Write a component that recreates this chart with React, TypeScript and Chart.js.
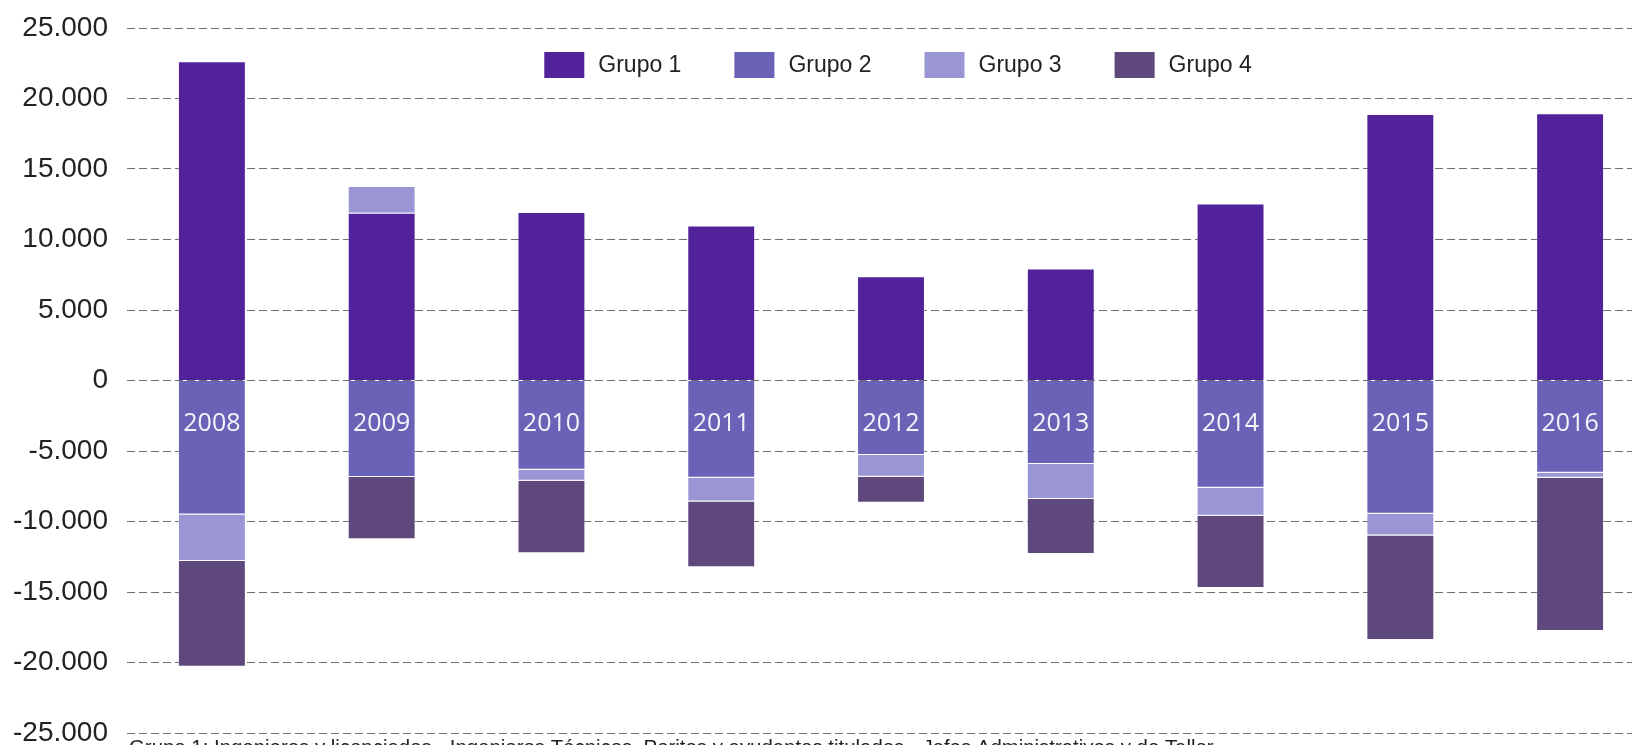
import React, { useEffect, useRef } from "react";
import { Chart, registerables } from "chart.js";

Chart.register(...registerables);

const years = ["2008", "2009", "2010", "2011", "2012", "2013", "2014", "2015", "2016"];
const grupo1 = [22650, 11900, 11950, 11000, 7400, 7950, 12550, 18900, 18950];
const grupo2 = [-9500, -6850, -6330, -6900, -5280, -5920, -7600, -9450, -6550];
const grupo3 = [-3300, 1900, -780, -1680, -1550, -2480, -1990, -1550, -340];
const grupo4 = [-7500, -4410, -5150, -4660, -1840, -3900, -5120, -7400, -10870];
const seriesLabels = ["Grupo 1", "Grupo 2", "Grupo 3", "Grupo 4"];
const seriesColors = ["#51229A", "#6962B7", "#9A96D6", "#5F487C"];
const yMin = -25000;
const yMax = 25000;
const yStep = 5000;
const footnote =
  "Grupo 1: Ingenieros y licenciados - Ingenieros Técnicos, Peritos y ayudantes titulados - Jefes Administrativos y de Taller";

const fmt = (v: number) => {
  const s = Math.abs(v).toString().replace(/\B(?=(\d{3})+(?!\d))/g, ".");
  return (v < 0 ? "-" : "") + s;
};

const overlayPlugin = {
  id: "overlay",
  afterDatasetsDraw(chart: any) {
    const ctx = chart.ctx;
    const xs = chart.scales.x;
    const ys = chart.scales.y;
    ctx.save();
    ctx.font = "25px 'Open Sans', 'Noto Sans', sans-serif";
    ctx.fillStyle = "#f6f4fb";
    ctx.textAlign = "center";
    ctx.textBaseline = "middle";
    const y0 = ys.getPixelForValue(0) + 43;
    years.forEach((yr, i) => {
      ctx.fillText(yr, xs.getPixelForValue(i), y0);
    });
    ctx.restore();
  },
  afterDraw(chart: any) {
    const ctx = chart.ctx;
    const ca = chart.chartArea;
    ctx.save();
    // legend
    ctx.font = "23px 'Liberation Sans', Arial, sans-serif";
    const boxW = 40;
    const boxH = 26;
    const gap = 14;
    const itemGap = 53;
    const widths = seriesLabels.map((l) => ctx.measureText(l).width);
    const total = widths.reduce((a, w) => a + boxW + gap + w, 0) + itemGap * (seriesLabels.length - 1);
    let x = (ca.left + ca.right) / 2 - total / 2 + 7;
    const cy = ca.top + 37;
    ctx.textBaseline = "middle";
    ctx.textAlign = "left";
    seriesLabels.forEach((l, i) => {
      ctx.fillStyle = seriesColors[i];
      ctx.fillRect(x, cy - boxH / 2, boxW, boxH);
      ctx.fillStyle = "#222";
      ctx.fillText(l, x + boxW + gap, cy + 1);
      x += boxW + gap + widths[i] + itemGap;
    });
    // footnote
    ctx.font = "20.4px 'Liberation Sans', Arial, sans-serif";
    ctx.fillStyle = "#222";
    ctx.textBaseline = "alphabetic";
    ctx.fillText(footnote, ca.left + 2, ca.bottom + 21);
    ctx.restore();
  },
};

export default function App() {
  const ref = useRef<HTMLCanvasElement | null>(null);
  useEffect(() => {
    if (!ref.current) return;
    const border = "rgba(255,255,255,0.2)";
    const chart = new Chart(ref.current, {
      type: "bar",
      data: {
        labels: years,
        datasets: [grupo1, grupo2, grupo3, grupo4].map((d, i) => ({
          label: seriesLabels[i],
          data: d,
          backgroundColor: seriesColors[i],
          borderColor: border,
          borderWidth: 1,
          barPercentage: 0.4,
          categoryPercentage: 1,
        })),
      },
      options: {
        responsive: false,
        animation: false,
        devicePixelRatio: 1,
        layout: { padding: { left: 0, right: 5, top: 28, bottom: 47 } },
        plugins: { legend: { display: false }, tooltip: { enabled: false } },
        scales: {
          x: { stacked: true, display: false },
          y: {
            stacked: true,
            min: yMin,
            max: yMax,
            afterFit: (s: any) => {
              s.width = 127;
              s.paddingTop = 0;
              s.paddingBottom = 0;
            },
            ticks: {
              stepSize: yStep,
              padding: 19,
              color: "#222",
              font: { family: "'Liberation Sans', Arial, sans-serif", size: 28 },
              callback: (v: any) => fmt(Number(v)),
            },
            grid: { color: "#6e6e6e", lineWidth: 1, drawTicks: false },
            border: { display: false, dash: [8, 4] },
          },
        },
      },
      plugins: [overlayPlugin],
    });
    return () => chart.destroy();
  }, []);
  return (
    <div
      style={{
        position: "fixed",
        left: 0,
        top: 0,
        width: 1632,
        height: 745,
        overflow: "hidden",
        background: "#fff",
      }}
    >
      <canvas ref={ref} width={1660} height={780} style={{ display: "block", width: 1660, height: 780 }} />
    </div>
  );
}
